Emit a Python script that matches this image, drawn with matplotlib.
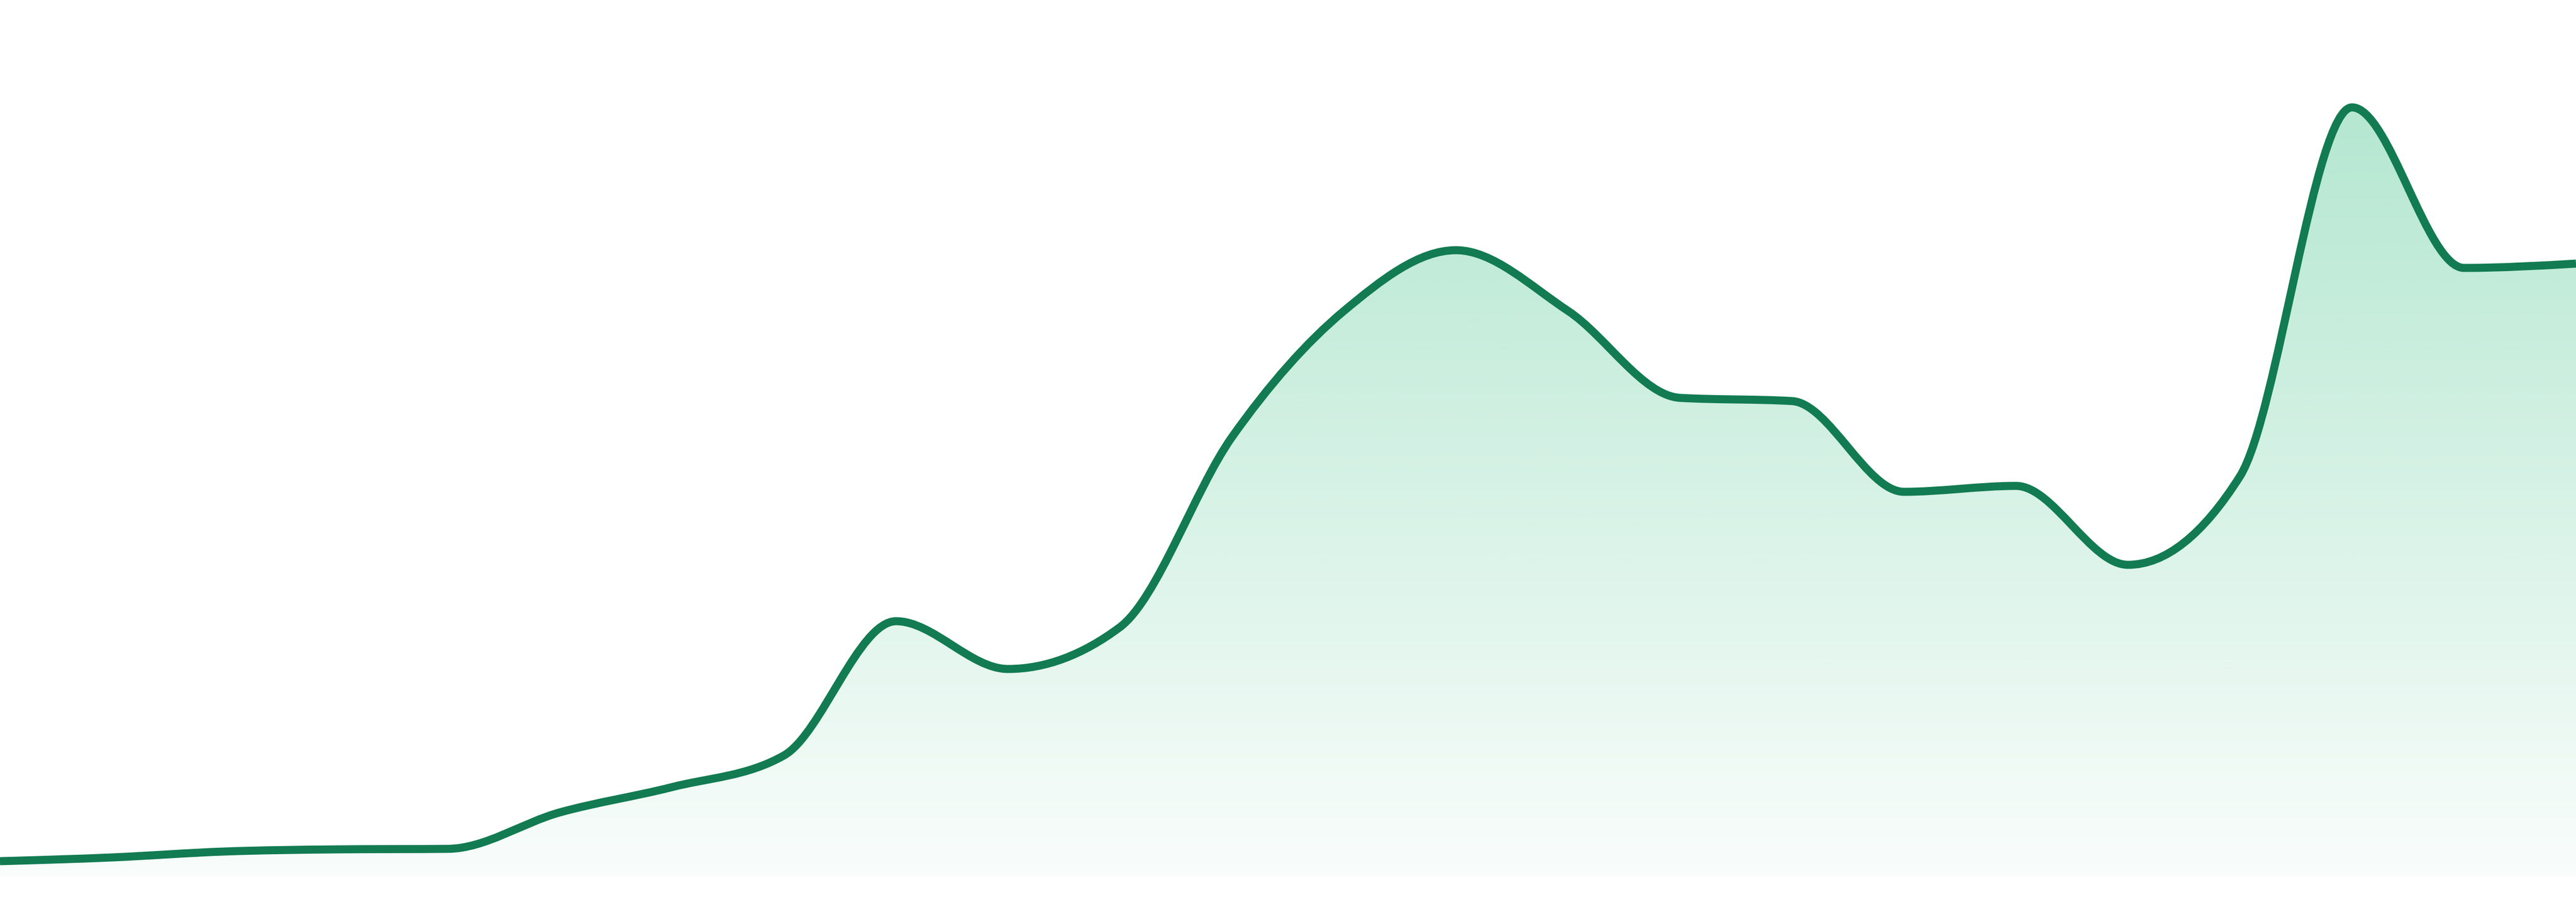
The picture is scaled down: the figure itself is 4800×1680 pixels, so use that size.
import matplotlib
matplotlib.use("Agg")
import matplotlib.pyplot as plt
from matplotlib.path import Path
from matplotlib.patches import PathPatch
import numpy as np

# values (one point per step, 24 steps)
steps = list(range(24))
values = [2.8, 3.5, 4.6, 5.0, 5.1, 11.9, 16.6, 22.5, 47.5, 38.6, 46.4, 81.8,
          105.3, 116.6, 105.3, 89.1, 88.5, 71.6, 72.7, 58.0, 74.5, 143.2, 113.3, 114.1]

line_color = "#127b52"
fill_rgb = (52 / 255, 190 / 255, 130 / 255)


def monotone_path(xs, ys):
    # d3-style monotoneX curve as cubic bezier segments
    xs = np.asarray(xs, float)
    ys = np.asarray(ys, float)
    n = len(xs)
    h = np.diff(xs)
    s = np.diff(ys) / h
    t = np.zeros(n)
    for i in range(1, n - 1):
        p = (s[i - 1] * h[i] + s[i] * h[i - 1]) / (h[i - 1] + h[i])
        t[i] = (np.sign(s[i - 1]) + np.sign(s[i])) * min(abs(s[i - 1]), abs(s[i]), 0.5 * abs(p))
    t[0] = (3 * s[0] - t[1]) / 2
    t[-1] = (3 * s[-1] - t[-2]) / 2
    verts = [(xs[0], ys[0])]
    codes = [Path.MOVETO]
    for i in range(n - 1):
        dx = h[i] / 3
        verts += [(xs[i] + dx, ys[i] + dx * t[i]),
                  (xs[i + 1] - dx, ys[i + 1] - dx * t[i + 1]),
                  (xs[i + 1], ys[i + 1])]
        codes += [Path.CURVE4] * 3
    return verts, codes


fig = plt.figure(figsize=(16, 5.6), dpi=300)
ax = fig.add_axes([0, 0, 1, 1])
ax.set_xlim(steps[0], steps[-1])
ax.set_ylim(-4.8, 163.2)
ax.axis("off")

verts, codes = monotone_path(steps, values)

# gradient fill under the curve, down to the baseline
fill_verts = verts + [(steps[-1], 0), (steps[0], 0), (steps[0], values[0])]
fill_codes = codes + [Path.LINETO, Path.LINETO, Path.CLOSEPOLY]
fill_patch = PathPatch(Path(fill_verts, fill_codes), facecolor="none", edgecolor="none")
ax.add_patch(fill_patch)

grad = np.zeros((256, 1, 4))
grad[:, 0, 0] = fill_rgb[0]
grad[:, 0, 1] = fill_rgb[1]
grad[:, 0, 2] = fill_rgb[2]
grad[:, 0, 3] = np.linspace(0.37, 0.03, 256)
img = ax.imshow(grad, extent=[steps[0], steps[-1], 0, max(values)],
                aspect="auto", origin="upper", interpolation="bilinear", zorder=1)
img.set_clip_path(fill_patch)

line_patch = PathPatch(Path(verts, codes), facecolor="none", edgecolor=line_color,
                       linewidth=3.6, zorder=2, capstyle="butt", joinstyle="round")
ax.add_patch(line_patch)

fig.savefig("out.png", dpi=300, facecolor="white")
